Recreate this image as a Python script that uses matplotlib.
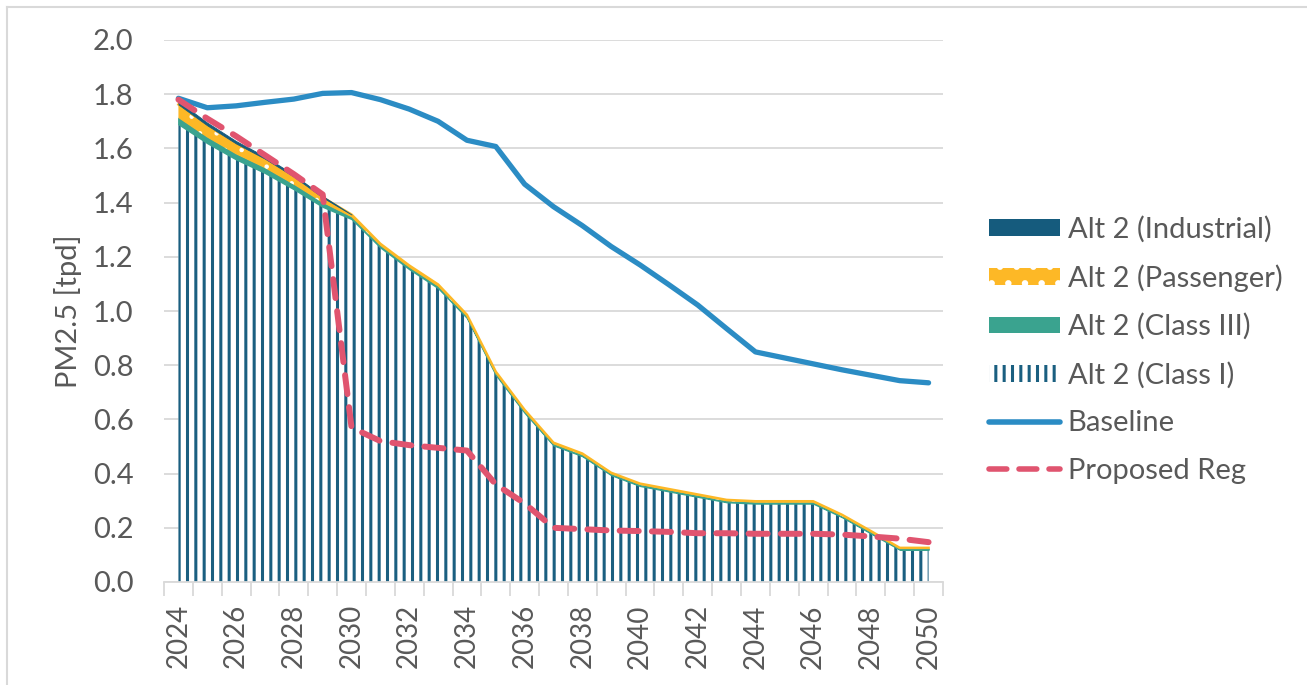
import numpy as np
import matplotlib
matplotlib.use("Agg")
import matplotlib.pyplot as plt
from matplotlib.patches import Patch
from matplotlib.lines import Line2D

plt.rcParams['font.family'] = ['Lato', 'DejaVu Sans']
plt.rcParams['hatch.linewidth'] = 2.2

years = list(range(2024, 2051))

# stacked layers (tpd)
class_i = [1.69, 1.62, 1.56, 1.51, 1.45, 1.385, 1.34, 1.235, 1.155, 1.085, 0.975,
           0.765, 0.625, 0.505, 0.465, 0.395, 0.355, 0.335, 0.315, 0.295, 0.29,
           0.29, 0.29, 0.24, 0.18, 0.12, 0.12]
class_iii = [0.022, 0.02, 0.018, 0.017, 0.016, 0.014, 0.006, 0.005, 0.005, 0.005, 0.004,
             0.004, 0.004, 0.003, 0.003, 0.003, 0.003, 0.003, 0.003, 0.003, 0.003,
             0.003, 0.003, 0.003, 0.003, 0.002, 0.002]
passenger = [0.05, 0.045, 0.04, 0.035, 0.03, 0.02, 0.01, 0.008, 0.008, 0.008, 0.007,
             0.007, 0.006, 0.006, 0.006, 0.005, 0.005, 0.005, 0.005, 0.005, 0.005,
             0.005, 0.005, 0.005, 0.005, 0.004, 0.004]
industrial = [0.012, 0.01, 0.009, 0.008, 0.007, 0.005, 0.0, 0.0, 0.0, 0.0, 0.0,
              0.0, 0.0, 0.0, 0.0, 0.0, 0.0, 0.0, 0.0, 0.0, 0.0,
              0.0, 0.0, 0.0, 0.0, 0.0, 0.0]

baseline = [1.785, 1.75, 1.757, 1.77, 1.782, 1.803, 1.806, 1.78, 1.745, 1.70, 1.63,
            1.607, 1.468, 1.385, 1.315, 1.238, 1.17, 1.097, 1.022, 0.935, 0.849,
            0.827, 0.805, 0.783, 0.763, 0.743, 0.735]
proposed = [1.78, 1.71, 1.645, 1.575, 1.505, 1.43, 0.57, 0.52, 0.505, 0.495, 0.485,
            0.36, 0.29, 0.2, 0.195, 0.19, 0.188, 0.185, 0.18, 0.18, 0.178,
            0.178, 0.178, 0.175, 0.168, 0.16, 0.147]

c_ind = '#155b7d'
c_pass = '#fdb826'
c_c3 = '#3aa38f'
c_c1 = '#1a5f80'
c_base = '#2b8cc4'
c_prop = '#e0546f'
c_text = '#595959'
c_grid = '#d9d9d9'

fig = plt.figure(figsize=(13.07, 6.85), dpi=100)
ax = fig.add_axes([164/1307, 1-582/685, (943-164)/1307, (582-40)/685])

x = np.arange(len(years))
l1 = np.array(class_i)
l2 = l1 + np.array(class_iii)
l3 = l2 + np.array(passenger)
l4 = l3 + np.array(industrial)

ax.fill_between(x, 0, l1, facecolor='white', edgecolor=c_c1, hatch='||', linewidth=0, zorder=2)
ax.fill_between(x, l1, l2, facecolor=c_c3, edgecolor=c_c3, linewidth=1.2, zorder=3)
with plt.rc_context({'hatch.linewidth': 0.8}):
    ax.fill_between(x, l2, l3, facecolor=c_pass, edgecolor='white', hatch='.', linewidth=0, zorder=3)
ax.plot(x, l3, color=c_pass, lw=1.8, zorder=3)
ax.fill_between(x[:7], l3[:7], l4[:7], facecolor=c_ind, edgecolor=c_ind, linewidth=0.6, zorder=3)

ax.plot(x, baseline, color=c_base, lw=3.8, solid_capstyle='round', zorder=4)
ax.plot(x, proposed, color=c_prop, lw=4.3, dashes=(3.2, 2.2), dash_capstyle='round', zorder=5)

ax.set_xlim(-0.5, len(years) - 0.5)
ax.set_ylim(0, 2.0)
ax.set_yticks(np.arange(0, 2.01, 0.2))
ax.set_yticklabels([f'{v:.1f}' for v in np.arange(0, 2.01, 0.2)])
ax.set_xticks(x[::2])
ax.set_xticklabels([str(y) for y in years[::2]], rotation=90)
ax.set_xticks(np.arange(-0.5, len(years)), minor=True)
ax.tick_params(axis='x', which='major', length=0, pad=16, labelsize=20, labelcolor=c_text)
ax.tick_params(axis='x', which='minor', length=10, width=1.3, color=c_grid, direction='out')
ax.tick_params(axis='y', length=0, pad=22, labelsize=21, labelcolor=c_text)
ax.grid(axis='y', color=c_grid, lw=1.3, zorder=0)
ax.set_axisbelow(True)
for s in ['left', 'right', 'top']:
    ax.spines[s].set_visible(False)
ax.spines['bottom'].set_color(c_grid)
ax.spines['bottom'].set_linewidth(1.3)
ax.set_ylabel('PM2.5 [tpd]', fontsize=21, color=c_text, labelpad=8)

with plt.rc_context({'hatch.linewidth': 1.0}):
    pass_patch = Patch(facecolor=c_pass, edgecolor='white', hatch='.', linewidth=0)
handles = [
    Patch(facecolor=c_ind, edgecolor=c_ind, linewidth=0),
    pass_patch,
    Patch(facecolor=c_c3, edgecolor=c_c3, linewidth=0),
    Patch(facecolor='white', edgecolor=c_c1, hatch='||', linewidth=0),
    Line2D([], [], color=c_base, lw=4, solid_capstyle='round'),
    Line2D([], [], color=c_prop, lw=4, dashes=(3.2, 2.2), dash_capstyle='round'),
]
labels = ['Alt 2 (Industrial)', 'Alt 2 (Passenger)', 'Alt 2 (Class III)',
          'Alt 2 (Class I)', 'Baseline', 'Proposed Reg']
leg = fig.legend(handles, labels, loc='upper left', bbox_to_anchor=(977/1307, 1-204/685),
                 frameon=False, fontsize=21, handlelength=2.45, handleheight=0.5,
                 handletextpad=0.26, labelspacing=0.74, borderaxespad=0)
for t in leg.get_texts():
    t.set_color(c_text)

fig.add_artist(Line2D([7/1307, 7/1307], [0, 1-7/685], color=c_grid, lw=1.5))
fig.add_artist(Line2D([7/1307, 1], [1-7/685, 1-7/685], color=c_grid, lw=1.5))

fig.savefig('out.png', dpi=100, facecolor='white')
